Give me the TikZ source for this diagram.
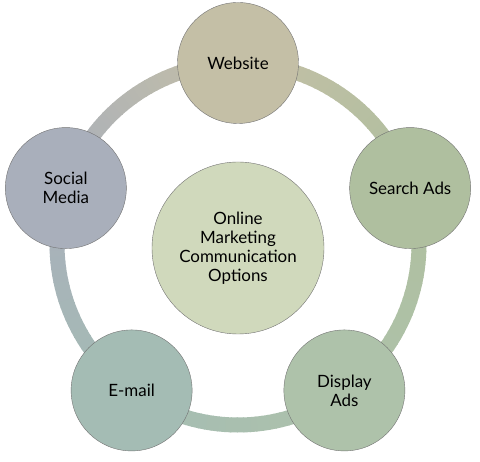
\documentclass[tikz,border=0pt]{standalone}
\usepackage{fontspec}
\setmainfont{Lato}
\usetikzlibrary{calc}

\definecolor{website}{HTML}{C4BFA6}
\definecolor{search}{HTML}{AFBF9F}
\definecolor{display}{HTML}{AEC2AA}
\definecolor{email}{HTML}{A4BCB4}
\definecolor{social}{HTML}{A9AFBB}
\definecolor{hub}{HTML}{D0D9BC}

\tikzset{
	option/.style={circle, draw=black!55, line width=0.4bp, minimum size=121bp, inner sep=0pt, align=center, font=\fontsize{17}{19}\selectfont},
	hubcircle/.style={option, minimum size=172bp, fill=hub},
	ringpiece/.style={line width=15bp, line cap=butt}
}

\begin{document}
\begin{tikzpicture}[x=1bp, y=1bp]
			%%%%% START %%%%%
			
			\useasboundingbox (0, 0) rectangle (480, 462);
			\coordinate (C) at (238, 218);
			
			% ring, blended from one option to the next
			\foreach \a/\ca/\cb in {90/website/search, 18/search/display, -54/display/email, -126/email/social, 162/social/website}{
				\foreach \i in {0,...,35}{
					\pgfmathsetmacro\p{100-\i*100/35}
					\pgfmathsetmacro\s{\a-\i*2}
					\draw[ringpiece, color=\ca!\p!\cb] ($(C)+(\s:181)$) arc[start angle=\s, end angle=\s-2.4, radius=181];
				}
			}
			
			\node[hubcircle] (hub) at (238, 214) {Online\\Marketing\\Communication\\Options};
			
			\node[option, fill=website] (website) at ($(C)+(90:181)$) {Website};
			\node[option, fill=search] (search) at ($(C)+(18:181)$) {Search Ads};
			\node[option, fill=display] (display) at ($(C)+(-54:181)$) {Display\\Ads};
			\node[option, fill=email] (email) at ($(C)+(-126:181)$) {E-mail};
			\node[option, fill=social] (social) at ($(C)+(162:181)$) {Social\\Media};
			
			%%%%% END %%%%%
\end{tikzpicture}
\end{document}
